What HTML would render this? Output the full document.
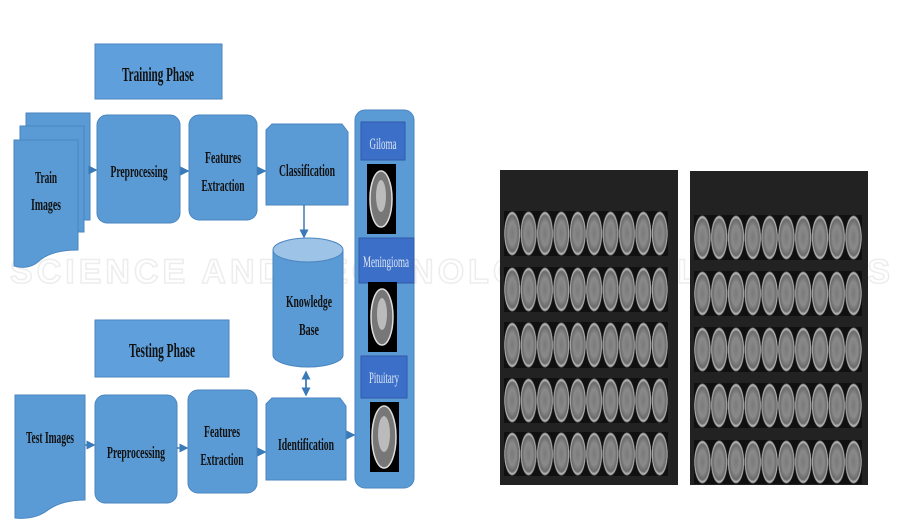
<!DOCTYPE html>
<html><head><meta charset="utf-8"><style>
html,body{margin:0;padding:0;background:#fff;width:901px;height:525px;overflow:hidden;}
.g{position:absolute;background-color:#222;}
.t{position:absolute;background-image:radial-gradient(ellipse closest-side,#7a7a7a 0%,#8a8a8a 50%,#6a6a6a 80%,#c0c0c0 92%,#101010 100%);background-color:#111;}
</style></head><body>
<svg width="901" height="525" style="position:absolute;left:0;top:0" font-family="Liberation Serif, serif" font-weight="bold">
<text x="10" y="283" font-family="Liberation Sans, sans-serif" font-size="34" fill="none" stroke="#ededed" stroke-width="1.5" textLength="880">SCIENCE AND TECHNOLOGY PUBLICATIONS</text>
<defs><marker id="a" markerWidth="6" markerHeight="6" refX="5" refY="3" orient="auto"><path d="M0,0L6,3L0,6z" fill="#3a7ab8"/></marker></defs>
<g fill="#5b9bd5" stroke="#4a86c0" stroke-width="1">
<rect x="95" y="44" width="127" height="55" fill="#5fa0dc"/>
<rect x="95" y="320" width="134" height="57" fill="#5fa0dc"/>
<path d="M26,113H90V220H26Z"/>
<path d="M20,126H84V232H20Z"/>
<path d="M14,140H78V250Q50,250 38,262Q28,270 14,266Z"/>
<rect x="97" y="115" width="83" height="108" rx="10"/>
<rect x="189" y="115" width="68" height="105" rx="10"/>
<path d="M272,124H342L348,132V205H266V130Z"/>
<rect x="355" y="110" width="59" height="378" rx="10"/>
<path d="M273,250V355A35,12 0 0 0 343,355V250Z"/>
<ellipse cx="308" cy="250" rx="35" ry="12" fill="#9dc3e6"/>
<path d="M15,395H85V500Q62,500 48,510Q35,520 15,518Z"/>
<rect x="95" y="395" width="82" height="108" rx="10"/>
<rect x="188" y="390" width="69" height="103" rx="10"/>
<path d="M272,398H340L346,406V480H266V404Z"/>
</g>
<g fill="#3b6fc8" stroke="#2f5aa8">
<rect x="361" y="122" width="44" height="38"/>
<rect x="359" y="238" width="55" height="45"/>
<rect x="361" y="356" width="46" height="42"/>
</g>
<g fill="#000">
<rect x="367" y="164" width="29" height="70"/>
<rect x="368" y="282" width="29" height="70"/>
<rect x="370" y="402" width="29" height="70"/>
</g>
<g fill="#777" stroke="#ddd" stroke-width="1.5">
<ellipse cx="381" cy="199" rx="11" ry="28"/>
<ellipse cx="382" cy="317" rx="11" ry="28"/>
<ellipse cx="384" cy="437" rx="12" ry="31"/>
</g>
<g fill="#bbb"><ellipse cx="381" cy="196" rx="5" ry="16"/><ellipse cx="382" cy="314" rx="5" ry="16"/><ellipse cx="384" cy="434" rx="6" ry="18"/></g>
<g stroke="#3a7ab8" stroke-width="1.5" fill="none" marker-end="url(#a)">
<path d="M90,170H96"/><path d="M180,171H188"/><path d="M257,171H265"/>
<path d="M304,205V237"/>
<path d="M85,445H94"/><path d="M177,448H187"/><path d="M257,452H265"/>
<path d="M346,435H354"/>
<path d="M306,388V372"/><path d="M306,372V395"/>
</g>
<g fill="#111" text-anchor="middle">
<text x="158" y="81" font-size="20" textLength="72" lengthAdjust="spacingAndGlyphs">Training Phase</text>
<text x="162" y="357" font-size="20" textLength="66" lengthAdjust="spacingAndGlyphs">Testing Phase</text>
<text x="46" y="183" font-size="17" textLength="22" lengthAdjust="spacingAndGlyphs">Train</text>
<text x="46" y="210" font-size="17" textLength="30" lengthAdjust="spacingAndGlyphs">Images</text>
<text x="139" y="177" font-size="17" textLength="57" lengthAdjust="spacingAndGlyphs">Preprocessing</text>
<text x="223" y="163" font-size="17" textLength="36" lengthAdjust="spacingAndGlyphs">Features</text>
<text x="223" y="191" font-size="17" textLength="43" lengthAdjust="spacingAndGlyphs">Extraction</text>
<text x="307" y="176" font-size="17" textLength="56" lengthAdjust="spacingAndGlyphs">Classification</text>
<text x="309" y="307" font-size="17" textLength="46" lengthAdjust="spacingAndGlyphs">Knowledge</text>
<text x="309" y="335" font-size="17" textLength="20" lengthAdjust="spacingAndGlyphs">Base</text>
<text x="50" y="443" font-size="17" textLength="48" lengthAdjust="spacingAndGlyphs">Test Images</text>
<text x="136" y="458" font-size="17" textLength="58" lengthAdjust="spacingAndGlyphs">Preprocessing</text>
<text x="222" y="437" font-size="17" textLength="36" lengthAdjust="spacingAndGlyphs">Features</text>
<text x="222" y="465" font-size="17" textLength="43" lengthAdjust="spacingAndGlyphs">Extraction</text>
<text x="306" y="450" font-size="17" textLength="56" lengthAdjust="spacingAndGlyphs">Identification</text>
</g>
<g fill="#dde6f5" text-anchor="middle" font-weight="normal">
<text x="383" y="149" font-size="16" textLength="27" lengthAdjust="spacingAndGlyphs">Giloma</text>
<text x="386" y="267" font-size="16" textLength="46" lengthAdjust="spacingAndGlyphs">Meningioma</text>
<text x="384" y="383" font-size="16" textLength="30" lengthAdjust="spacingAndGlyphs">Pituitary</text>
</g>
</svg>
<div class="g" style="left:500px;top:170px;width:178px;height:315px;"></div>
<div class="g" style="left:690px;top:171px;width:178px;height:314px;"></div>
<div class="t" style="left:504px;top:211px;width:164px;height:45px;background-size:16.4px 45px;"></div>
<div class="t" style="left:504px;top:267px;width:164px;height:45px;background-size:16.4px 45px;"></div>
<div class="t" style="left:504px;top:322px;width:164px;height:46px;background-size:16.4px 46px;"></div>
<div class="t" style="left:504px;top:378px;width:164px;height:45px;background-size:16.4px 45px;"></div>
<div class="t" style="left:504px;top:432px;width:164px;height:44px;background-size:16.4px 44px;"></div>
<div class="t" style="left:694px;top:215px;width:168px;height:45px;background-size:16.8px 45px;"></div>
<div class="t" style="left:694px;top:271px;width:168px;height:45px;background-size:16.8px 45px;"></div>
<div class="t" style="left:694px;top:327px;width:168px;height:45px;background-size:16.8px 45px;"></div>
<div class="t" style="left:694px;top:383px;width:168px;height:45px;background-size:16.8px 45px;"></div>
<div class="t" style="left:694px;top:440px;width:168px;height:44px;background-size:16.8px 44px;"></div>
</body></html>
